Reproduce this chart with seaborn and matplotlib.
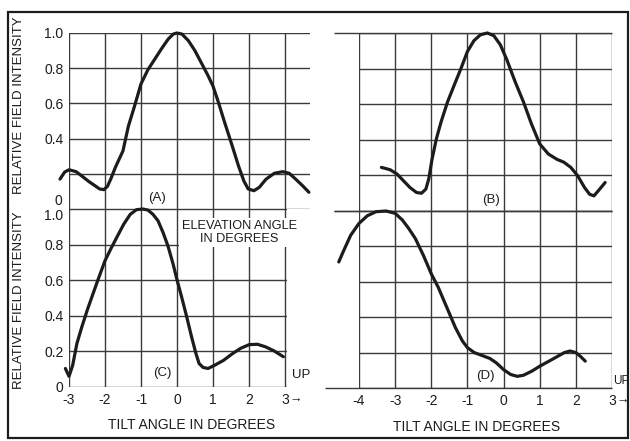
import seaborn as sns
import matplotlib.pyplot as plt
from matplotlib.patches import Rectangle

sns.set_style("white")
plt.rcParams["font.family"] = ["Liberation Sans", "DejaVu Sans"]

# Curves (x = degrees, y = relative field intensity)
a_x = [-3.25, -3.12, -3.0, -2.8, -2.44, -2.24, -2.15, -2.03, -1.93, -1.84, -1.71, -1.5,
       -1.35, -1.17, -1.0, -0.81, -0.62, -0.43, -0.24, -0.1, 0.0, 0.14, 0.32, 0.5, 0.68,
       0.86, 1.0, 1.14, 1.33, 1.52, 1.71, 1.86, 1.98, 2.14, 2.29, 2.48, 2.71, 2.94, 3.12,
       3.3, 3.49, 3.67]
a_y = [0.17, 0.21, 0.223, 0.212, 0.155, 0.127, 0.114, 0.11, 0.129, 0.17, 0.237, 0.33,
       0.47, 0.59, 0.71, 0.79, 0.85, 0.91, 0.966, 0.994, 1.0, 0.994, 0.956, 0.90, 0.83,
       0.76, 0.70, 0.615, 0.49, 0.37, 0.246, 0.16, 0.114, 0.104, 0.123, 0.17, 0.203,
       0.212, 0.203, 0.17, 0.133, 0.095]

b_x = [-3.38, -3.14, -2.95, -2.77, -2.59, -2.41, -2.27, -2.15, -2.07, -1.98, -1.86, -1.73,
       -1.55, -1.36, -1.18, -1.0, -0.82, -0.64, -0.45, -0.27, -0.09, 0.09, 0.32, 0.55,
       0.77, 1.0, 1.24, 1.48, 1.67, 1.86, 2.05, 2.24, 2.38, 2.5, 2.66, 2.81]
b_y = [0.245, 0.232, 0.208, 0.17, 0.132, 0.104, 0.10, 0.123, 0.18, 0.29, 0.405, 0.50,
       0.613, 0.71, 0.80, 0.896, 0.957, 0.99, 1.0, 0.985, 0.934, 0.85, 0.726, 0.613,
       0.49, 0.377, 0.32, 0.29, 0.274, 0.245, 0.198, 0.132, 0.094, 0.085, 0.123, 0.16]

c_x = [-3.1, -3.0, -2.9, -2.78, -2.64, -2.49, -2.34, -2.2, -2.0, -1.83, -1.65, -1.48,
       -1.3, -1.13, -0.95, -0.81, -0.67, -0.53, -0.39, -0.25, -0.11, 0.0, 0.12, 0.26,
       0.4, 0.52, 0.61, 0.72, 0.86, 1.05, 1.29, 1.52, 1.76, 2.0, 2.23, 2.45, 2.68, 2.95]
c_y = [0.104, 0.06, 0.12, 0.245, 0.34, 0.434, 0.52, 0.60, 0.71, 0.78, 0.85, 0.915,
       0.97, 0.996, 1.0, 0.994, 0.97, 0.934, 0.868, 0.79, 0.69, 0.60, 0.51, 0.40,
       0.283, 0.19, 0.132, 0.11, 0.104, 0.123, 0.15, 0.185, 0.217, 0.238, 0.24, 0.226,
       0.204, 0.17]

d_x = [-4.56, -4.42, -4.23, -4.0, -3.77, -3.53, -3.25, -3.0, -2.8, -2.62, -2.44, -2.22,
       -2.0, -1.81, -1.57, -1.33, -1.14, -1.0, -0.81, -0.6, -0.38, -0.2, 0.0, 0.2, 0.38,
       0.55, 0.78, 1.0, 1.34, 1.68, 1.84, 2.0, 2.12, 2.26]
d_y = [0.712, 0.778, 0.863, 0.93, 0.973, 0.996, 1.0, 0.987, 0.949, 0.90, 0.844, 0.75,
       0.645, 0.57, 0.455, 0.34, 0.266, 0.228, 0.20, 0.184, 0.167, 0.142, 0.104, 0.076,
       0.066, 0.072, 0.095, 0.123, 0.161, 0.20, 0.209, 0.20, 0.18, 0.152]

y_ticks = [0, 0.2, 0.4, 0.6, 0.8, 1.0]
labels_a = ["", "", "0.4", "0.6", "0.8", "1.0"]
labels_c = ["0", "0.2", "0.4", "0.6", "0.8", ""]
ticks_left = [-3, -2, -1, 0, 1, 2, 3]
ticks_right = [-4, -3, -2, -1, 0, 1, 2, 3]

ink = "#1c1c1c"
grid_ink = "#3a3a3a"
W, H = 630, 441

fig = plt.figure(figsize=(W / 100, H / 100), dpi=100)


def panel(left, top, right, bottom):
    ax = fig.add_axes([left / W, 1 - bottom / H, (right - left) / W, (bottom - top) / H])
    for s in ax.spines.values():
        s.set_visible(False)
    ax.set_ylim(0, 1)
    ax.set_yticks(y_ticks)
    ax.grid(True, color=grid_ink, linewidth=1.0)
    ax.tick_params(length=0, labelsize=10, colors=ink, pad=4)
    return ax


ax_a = panel(69, 33, 310, 209)
ax_c = panel(69, 209, 287, 387)
ax_b = panel(359, 33, 612, 211)
ax_d = panel(359, 211, 612, 388)

ax_a.set_xlim(-3, 3.7)
ax_c.set_xlim(-3, 3.05)
ax_b.set_xlim(-4, 3)
ax_d.set_xlim(-4, 3)
for ax in (ax_a, ax_c):
    ax.set_xticks(ticks_left)
for ax in (ax_b, ax_d):
    ax.set_xticks(ticks_right)

ax_a.set_yticklabels(labels_a)
ax_c.set_yticklabels(labels_c)
ax_b.set_yticklabels([])
ax_d.set_yticklabels([])
ax_a.set_xticklabels([])
ax_b.set_xticklabels([])
ax_c.set_xticklabels([str(t) for t in ticks_left])
ax_d.set_xticklabels([str(t) for t in ticks_right])

# the "0" of the upper panel and the "1.0" of the lower one sit off their lines
ax_a.annotate("0", xy=(-3, 0), xytext=(-4.5, 6), textcoords="offset points",
              ha="right", va="center", fontsize=10, color=ink)
ax_c.annotate("1.0", xy=(-3, 1), xytext=(-4.5, -5), textcoords="offset points",
              ha="right", va="center", fontsize=10, color=ink)

# edge lines of the right-hand grid reach further left than the grid itself
ax_b.hlines([0, 1], -4.7, 3, color=grid_ink, linewidth=1.0, clip_on=False)
ax_d.hlines(1, -4.7, 3, color=grid_ink, linewidth=1.0, clip_on=False)
ax_d.hlines(0, -4.95, 3, color=grid_ink, linewidth=1.0, clip_on=False)

line_kw = dict(color=ink, linewidth=2.3, clip_on=False, sort=False, estimator=None,
               solid_capstyle="round", solid_joinstyle="round", zorder=5)
sns.lineplot(x=a_x, y=a_y, ax=ax_a, **line_kw)
sns.lineplot(x=b_x, y=b_y, ax=ax_b, **line_kw)
sns.lineplot(x=c_x, y=c_y, ax=ax_c, **line_kw)
sns.lineplot(x=d_x, y=d_y, ax=ax_d, **line_kw)

# panel letters
txt = dict(fontsize=9.5, color=ink, ha="center", va="center")
ax_a.text(-0.55, 0.065, "(A)", **txt)
ax_b.text(-0.35, 0.06, "(B)", **txt)
ax_c.text(-0.4, 0.08, "(C)", **txt)
ax_d.text(-0.5, 0.065, "(D)", **txt)

ax_c.text(1.72, 0.868, "ELEVATION ANGLE\nIN DEGREES", fontsize=9.2, color=ink,
          ha="center", va="center", linespacing=1.15, zorder=6,
          bbox=dict(facecolor="white", edgecolor="none", pad=1.5))

ax_c.text(3.2, 0.07, "UP", fontsize=9.5, color=ink, ha="left", va="center")
ax_d.text(3.02, 0.04, "UP", fontsize=8.5, color=ink, ha="left", va="center")
ax_c.text(3.12, -0.073, "\u2192", fontsize=9, color=ink, ha="left", va="center")
ax_d.text(3.12, -0.073, "\u2192", fontsize=9, color=ink, ha="left", va="center")

for ax in (ax_a, ax_c):
    ax.set_ylabel("RELATIVE FIELD INTENSITY", fontsize=9.5, color=ink)
ax_a.yaxis.set_label_coords(-0.183, 0.59)
ax_c.yaxis.set_label_coords(-0.2, 0.49)

ax_c.set_xlabel("TILT ANGLE IN DEGREES", fontsize=10, color=ink)
ax_d.set_xlabel("TILT ANGLE IN DEGREES", fontsize=10, color=ink)
ax_c.xaxis.set_label_coords(0.564, -0.175)
ax_d.xaxis.set_label_coords(0.466, -0.18)

# outer frame of the printed figure
fig.add_artist(Rectangle((8 / W, 3 / H), 620 / W, 426 / H, transform=fig.transFigure,
                         fill=False, edgecolor=ink, linewidth=1.6))

fig.savefig("out.png", dpi=100, facecolor="white")
